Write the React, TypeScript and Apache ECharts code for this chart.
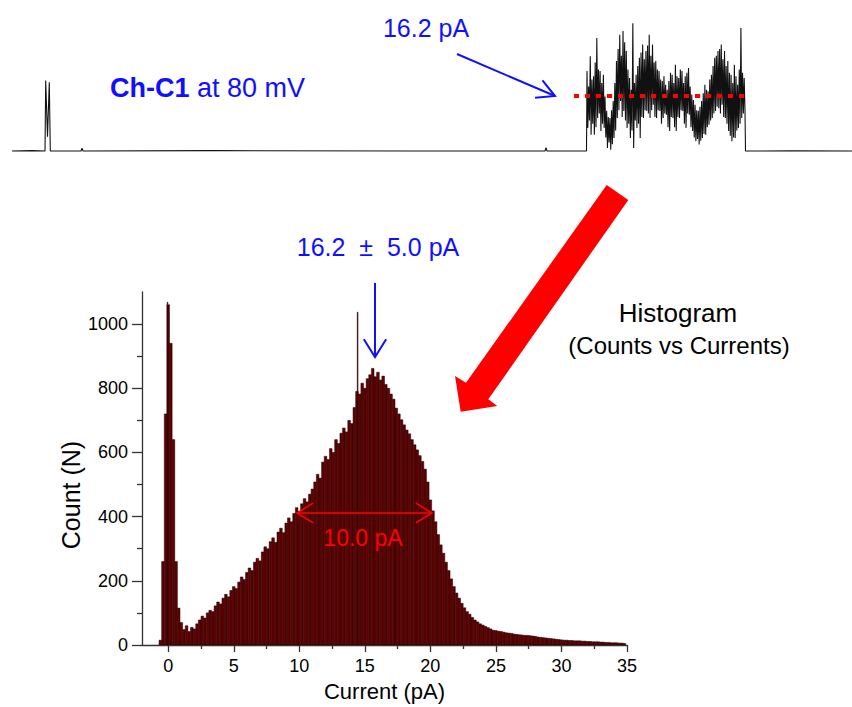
import React, { useEffect, useRef } from "react";
import * as echarts from "echarts";

const FONT = '"Liberation Sans", Arial, Helvetica, sans-serif';
const BLUE = "#1010ff";
const RED = "#ff0000";

// ---------------- Histogram (Counts vs Currents) ----------------
const binStart = -0.6; // centre of the first bin (pA)
const binWidth = 0.2; // pA
const histCounts = [
  15, 260, 720, 1060, 940, 640, 260, 115, 70, 48,
  60, 42, 55, 50, 66, 78, 90, 84, 100, 108,
  104, 122, 134, 128, 146, 158, 150, 170, 182, 176,
  196, 212, 204, 226, 240, 232, 258, 270, 262, 290,
  306, 300, 322, 334, 320, 352, 364, 350, 380, 396,
  384, 410, 428, 416, 440, 456, 446, 470, 486, 508,
  532, 520, 570, 588, 578, 612, 600, 640, 628, 660,
  676, 664, 700, 690, 740, 790, 782, 816, 800, 830,
  842, 862, 836, 850, 826, 838, 812, 800, 782, 766,
  738, 720, 702, 686, 670, 658, 640, 624, 608, 590,
  572, 548, 508, 452, 418, 384, 344, 312, 286, 258,
  232, 206, 182, 162, 146, 130, 116, 104, 96, 86,
  78, 72, 66, 62, 58, 54, 50, 46, 45, 43,
  42, 40, 38, 37, 36, 34, 33, 32, 31, 30,
  30, 29, 28, 27, 25, 24, 23, 22, 21, 20,
  19, 18, 17, 16, 15, 15, 14, 14, 13, 13,
  13, 12, 12, 11, 11, 10, 10, 10, 9, 9,
  8, 8, 7, 7, 7, 6, 6, 5,
];
const spikeCurrents = [-0.05, 14.45];
const spikeCounts = [1068, 1037];
const spikeWidth = 0.06;

const xLabelValues = [0, 5, 10, 15, 20, 25, 30, 35];
const xMinorValues = [2.5, 7.5, 12.5, 17.5, 22.5, 27.5, 32.5];
const yLabelValues = [0, 200, 400, 600, 800, 1000];
const yMinorValues = [100, 300, 500, 700, 900];

// ---------------- Current trace (Ch-C1 at 80 mV) ----------------
const preTimes = [0, 20, 33, 33.7, 35.5, 37.3, 38.3, 69, 70, 71, 200, 400, 533, 534, 535, 574.5];
const preCurrents = [0, 0.1, 0, 20.7, 4.2, 20.2, 0, 0, 0.8, 0, 0.1, 0, 0, 1.0, 0, 0];
const eventStart = 575;
const eventEnd = 733;
const eventCurrents = [
  23.5, 6.8, 19, 9, 27.9, 4.8, 21, 8, 22.0, 4.8, 26, 7, 33.2, 9.7, 24, 11,
  23.5, 5.9, 20, 8, 22.4, 6.8, 16, 4, 11.8, 0.9, 10, 2.5, 9.7, 0.4, 12, 2,
  14.7, 3.8, 20, 6, 26.5, 9.7, 30, 12, 34.2, 14.7, 28, 10, 35.3, 11.8, 32, 9,
  29.4, 6.8, 24, 8, 21.5, 3.8, 18, 6, 37.6, 0.9, 20, 9, 22.4, 6.8, 25, 8,
  27.4, 3.8, 29, 10, 31.3, 9.7, 27, 12, 29.4, 11.8, 31, 11, 34.2, 9.7, 28, 12,
  31.3, 13.6, 26, 10, 26.5, 9.7, 24, 12, 23.5, 11.8, 21, 8, 20.6, 9.7, 22, 11,
  19.5, 10.7, 18, 7, 20.6, 5.9, 23, 10, 22.4, 9.7, 20, 7, 25.4, 5.9, 22, 10,
  21.5, 9.7, 24, 12, 23.5, 11.8, 20, 8, 22.0, 6.8, 23, 11, 24.4, 10.7, 19, 7,
  16.6, 5.9, 15, 4, 13.6, 2.9, 12, 3.5, 11.8, 1.9, 13, 3, 14.7, 3.8, 17, 5,
  19.5, 4.8, 18, 7, 17.6, 7.7, 21, 9, 22.4, 9.7, 25, 11, 27.4, 11.8, 28, 13,
  29.4, 12.6, 30, 11, 31.3, 13.6, 27, 10, 29.4, 9.7, 25, 8, 26.5, 5.9, 23, 4.5,
  22.4, 2.9, 20, 4, 25.4, 3.8, 22, 6, 19.5, 6.8, 24, 8, 36.2, 9.7, 23, 11,
  21.5, 11.8,
];
const postTimes = [733.5, 780, 840];
const postCurrents = [0, 0.05, 0];
const meanCurrent = 16.2;
const meanLineTimes = [562, 738];

function arrowHead(tip: number[], from: number[], len: number, ang: number) {
  const dx = from[0] - tip[0];
  const dy = from[1] - tip[1];
  const d = Math.hypot(dx, dy);
  const ux = dx / d;
  const uy = dy / d;
  const rot = (a: number) => [
    tip[0] + len * (ux * Math.cos(a) - uy * Math.sin(a)),
    tip[1] + len * (ux * Math.sin(a) + uy * Math.cos(a)),
  ];
  return [rot(ang), tip, rot(-ang)];
}

function arrow(from: number[], tip: number[], color: string, width: number, len: number, ang: number) {
  return [
    { type: "line", z: 100, shape: { x1: from[0], y1: from[1], x2: tip[0], y2: tip[1] }, style: { stroke: color, lineWidth: width } },
    { type: "polyline", z: 100, shape: { points: arrowHead(tip, from, len, ang) }, style: { stroke: color, lineWidth: width, fill: "none" } },
  ];
}

export default function App() {
  const ref = useRef<HTMLDivElement>(null);
  useEffect(() => {
    if (!ref.current) return;
    const chart = echarts.init(ref.current, undefined, { renderer: "svg" });

    const tracePoints: number[][] = [];
    preTimes.forEach((t, i) => tracePoints.push([t, preCurrents[i]]));
    const step = (eventEnd - eventStart) / (eventCurrents.length - 1);
    eventCurrents.forEach((c, i) => tracePoints.push([eventStart + i * step, c]));
    postTimes.forEach((t, i) => tracePoints.push([t, postCurrents[i]]));

    const histData = histCounts.map((c, i) => [binStart + i * binWidth, c, binWidth]);
    const spikeData = spikeCurrents.map((x, i) => [x, spikeCounts[i], spikeWidth]);

    const renderBin = (params: any, api: any) => {
      const x = api.value(0);
      const y = api.value(1);
      const w = api.value(2);
      const p0 = api.coord([x - w / 2, y]);
      const p1 = api.coord([x + w / 2, 0]);
      return {
        type: "rect",
        shape: { x: p0[0], y: p0[1], width: p1[0] - p0[0], height: p1[1] - p0[1] },
        style: { fill: "#600000", stroke: "#200000", lineWidth: 0.5 },
      };
    };

    const axisLineStyle = { color: "#333", width: 1.3 };
    const tickText = { fontSize: 18, color: "#000", fontFamily: FONT };
    const plain = (v: number) => String(v);
    const nb = "\u00a0";

    chart.setOption({
      animation: false,
      backgroundColor: "#fff",
      grid: [
        { left: 12, top: 15, width: 840, height: 153 },
        { left: 142, top: 292, width: 485, height: 356 },
      ],
      xAxis: [
        {
          type: "value", gridIndex: 1, position: "bottom", min: -2, max: 35,
          axisLine: { show: true, onZero: false, lineStyle: axisLineStyle },
          axisTick: { show: true, length: 7, customValues: xLabelValues, lineStyle: axisLineStyle },
          axisLabel: { show: true, customValues: xLabelValues, margin: 12, formatter: plain, ...tickText },
          splitLine: { show: false },
          name: "Current (pA)", nameLocation: "middle", nameGap: 35,
          nameTextStyle: { fontSize: 22, color: "#000", fontFamily: FONT },
        },
        {
          type: "value", gridIndex: 1, position: "bottom", min: -2, max: 35,
          axisLine: { show: false, onZero: false },
          axisTick: { show: true, length: 4, customValues: xMinorValues, lineStyle: axisLineStyle },
          axisLabel: { show: false },
          splitLine: { show: false },
        },
        { type: "value", gridIndex: 0, min: 0, max: 840, show: false },
      ],
      yAxis: [
        {
          type: "value", gridIndex: 1, position: "left", min: 0, max: 1100,
          axisLine: { show: true, onZero: false, lineStyle: axisLineStyle },
          axisTick: { show: true, length: 10, customValues: yLabelValues, lineStyle: axisLineStyle },
          axisLabel: { show: true, customValues: yLabelValues, margin: 14, formatter: plain, ...tickText },
          splitLine: { show: false },
        },
        {
          type: "value", gridIndex: 1, position: "left", min: 0, max: 1100,
          axisLine: { show: false, onZero: false },
          axisTick: { show: true, length: 5, customValues: yMinorValues, lineStyle: axisLineStyle },
          axisLabel: { show: false },
          splitLine: { show: false },
        },
        { type: "value", gridIndex: 0, min: -5, max: 40, show: false },
      ],
      series: [
        {
          type: "line", xAxisIndex: 2, yAxisIndex: 2, data: tracePoints,
          showSymbol: false, symbol: "none",
          lineStyle: { color: "#111", width: 1.1 },
        },
        {
          type: "line", xAxisIndex: 2, yAxisIndex: 2,
          data: meanLineTimes.map((t) => [t, meanCurrent]),
          showSymbol: false, symbol: "none",
          lineStyle: { color: RED, width: 4, type: [5, 6], cap: "butt" },
          z: 5,
        },
        {
          type: "custom", xAxisIndex: 0, yAxisIndex: 0, data: histData,
          renderItem: renderBin, encode: { x: 0, y: 1 }, clip: true,
        },
        {
          type: "custom", xAxisIndex: 0, yAxisIndex: 0, data: spikeData,
          renderItem: renderBin, encode: { x: 0, y: 1 }, clip: true,
        },
      ],
      graphic: [
        {
          type: "text", left: 110, top: 74, z: 100,
          style: {
            text: "{b|Ch-C1} at 80 mV",
            fill: BLUE, fontSize: 27, fontFamily: FONT,
            rich: { b: { fontWeight: "bold", fill: BLUE, fontSize: 27, fontFamily: FONT } },
          },
        },
        {
          type: "text", x: 426, y: 28, z: 100,
          style: { text: "16.2 pA", fill: BLUE, fontSize: 25, fontFamily: FONT, align: "center", verticalAlign: "middle" },
        },
        ...arrow([457, 54], [555, 96], BLUE, 2, 20, 0.49),
        {
          type: "text", x: 378, y: 247, z: 100,
          style: {
            text: "16.2" + nb + nb + "±" + nb + nb + "5.0 pA",
            fill: BLUE, fontSize: 25, fontFamily: FONT, align: "center", verticalAlign: "middle",
          },
        },
        ...arrow([375, 283], [375, 357], BLUE, 2, 21, 0.56),
        ...arrow([365, 513], [297, 513], RED, 1.6, 19, 0.55),
        ...arrow([365, 513], [432, 513], RED, 1.6, 19, 0.55),
        {
          type: "text", x: 363, y: 538, z: 100,
          style: { text: "10.0 pA", fill: RED, fontSize: 23, fontFamily: FONT, align: "center", verticalAlign: "middle" },
        },
        {
          type: "polygon", z: 100,
          shape: {
            points: [
              [606.7, 185], [628.3, 200], [488.3, 399.3], [497.3, 406],
              [460.7, 411.7], [455, 376], [466, 382.7],
            ],
          },
          style: { fill: RED },
        },
        {
          type: "text", x: 678, y: 313, z: 100,
          style: { text: "Histogram", fill: "#000", fontSize: 26, fontFamily: FONT, align: "center", verticalAlign: "middle" },
        },
        {
          type: "text", x: 679, y: 345, z: 100,
          style: { text: "(Counts vs Currents)", fill: "#000", fontSize: 24, fontFamily: FONT, align: "center", verticalAlign: "middle" },
        },
        {
          type: "text", x: 71, y: 495, rotation: Math.PI / 2, z: 100,
          style: { text: "Count (N)", fill: "#000", fontSize: 25, fontFamily: FONT, align: "center", verticalAlign: "middle" },
        },
      ],
    });
    return () => chart.dispose();
  }, []);
  return <div ref={ref} style={{ position: "fixed", left: 0, top: 0, width: 852, height: 707 }} />;
}
